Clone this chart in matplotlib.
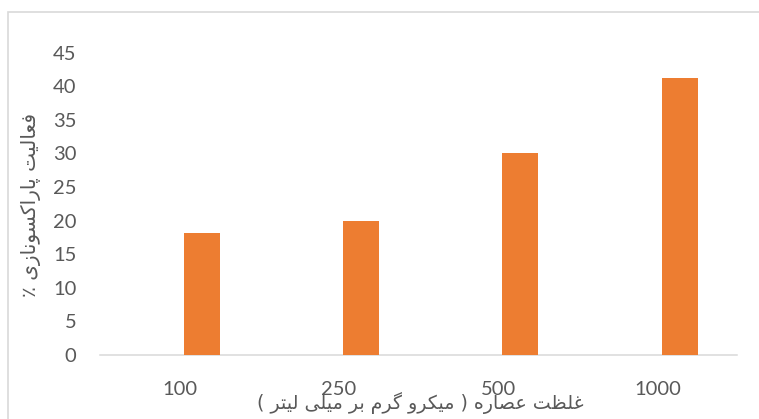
import matplotlib
matplotlib.use("Agg")
import matplotlib.pyplot as plt
from matplotlib.patches import Rectangle

# ---- data ----
categories = ['100', '250', '500', '1000']
values = [18.2, 20.0, 30.0, 41.2]
y_ticks = [0, 5, 10, 15, 20, 25, 30, 35, 40, 45]
x_label = 'غلظت عصاره ( میکرو گرم بر میلی لیتر )'
y_label = 'فعالیت پاراکسونازی ٪'

# ---- minimal Persian shaping + RTL ordering ----
FORMS = {
    '\u0627': ('\uFE8D', '\uFE8E', None, None),
    '\u0628': ('\uFE8F', '\uFE90', '\uFE91', '\uFE92'),
    '\u067E': ('\uFB56', '\uFB57', '\uFB58', '\uFB59'),
    '\u062A': ('\uFE95', '\uFE96', '\uFE97', '\uFE98'),
    '\u0631': ('\uFEAD', '\uFEAE', None, None),
    '\u0632': ('\uFEAF', '\uFEB0', None, None),
    '\u0633': ('\uFEB1', '\uFEB2', '\uFEB3', '\uFEB4'),
    '\u0635': ('\uFEB9', '\uFEBA', '\uFEBB', '\uFEBC'),
    '\u0638': ('\uFEC5', '\uFEC6', '\uFEC7', '\uFEC8'),
    '\u0639': ('\uFEC9', '\uFECA', '\uFECB', '\uFECC'),
    '\u063A': ('\uFECD', '\uFECE', '\uFECF', '\uFED0'),
    '\u0641': ('\uFED1', '\uFED2', '\uFED3', '\uFED4'),
    '\u06A9': ('\uFB8E', '\uFB8F', '\uFB90', '\uFB91'),
    '\u06AF': ('\uFB92', '\uFB93', '\uFB94', '\uFB95'),
    '\u0644': ('\uFEDD', '\uFEDE', '\uFEDF', '\uFEE0'),
    '\u0645': ('\uFEE1', '\uFEE2', '\uFEE3', '\uFEE4'),
    '\u0646': ('\uFEE5', '\uFEE6', '\uFEE7', '\uFEE8'),
    '\u0647': ('\uFEE9', '\uFEEA', '\uFEEB', '\uFEEC'),
    '\u0648': ('\uFEED', '\uFEEE', None, None),
    '\u06CC': ('\uFBFC', '\uFBFD', '\uFBFE', '\uFBFF'),
}


def dual(c):
    return c in FORMS and FORMS[c][2] is not None


def shape_rtl(s):
    out = []
    n = len(s)
    for i, c in enumerate(s):
        if c not in FORMS:
            out.append(c)
            continue
        prev_join = i > 0 and dual(s[i - 1])
        next_join = dual(c) and i + 1 < n and s[i + 1] in FORMS
        iso, fin, ini, med = FORMS[c]
        if prev_join and next_join:
            out.append(med)
        elif prev_join:
            out.append(fin)
        elif next_join:
            out.append(ini)
        else:
            out.append(iso)
    vis = ''.join(reversed(out))
    return vis.translate(str.maketrans('()', ')('))


W, H = 759, 419
fig = plt.figure(figsize=(W / 100, H / 100), dpi=100)
fig.patch.set_facecolor('white')

# outer chart frame (extends past right/bottom edges)
fig.patches.append(Rectangle((8 / W, -0.1), 1.2, 1 - 12 / H + 0.1,
                             transform=fig.transFigure, fill=False,
                             edgecolor='#D9D9D9', linewidth=1.2))

ax = fig.add_axes([100 / W, 1 - 355 / H, 637 / W, (355 - 52.6) / H])
x = list(range(len(categories)))
offset = 0.14
ax.bar([i + offset for i in x], values, width=0.226, color='#ED7D31',
       zorder=3)

ax.set_xlim(-0.5, len(categories) - 0.5)
ax.set_ylim(0, 45)
ax.set_yticks(y_ticks)
ax.set_xticks(x)
ax.set_xticklabels(categories)

for s in ['top', 'right', 'left']:
    ax.spines[s].set_visible(False)
ax.spines['bottom'].set_color('#D9D9D9')
ax.spines['bottom'].set_linewidth(1.1)

ax.tick_params(axis='both', length=0, colors='#595959', labelsize=14.5)
ax.tick_params(axis='y', pad=17)
ax.tick_params(axis='x', pad=19)
for lab in ax.get_xticklabels() + ax.get_yticklabels():
    lab.set_fontfamily(['Lato', 'DejaVu Sans'])

fig.text(420 / W, 1 - 403 / H, shape_rtl(x_label), ha='center', va='center',
         fontsize=13.7, color='#595959', family=['DejaVu Sans'])
fig.text(31 / W, 1 - 205 / H, shape_rtl(y_label), ha='center', va='center',
         rotation=90, fontsize=14.5, color='#595959', family=['DejaVu Sans'])

fig.savefig('out.png', dpi=100, facecolor='white')
